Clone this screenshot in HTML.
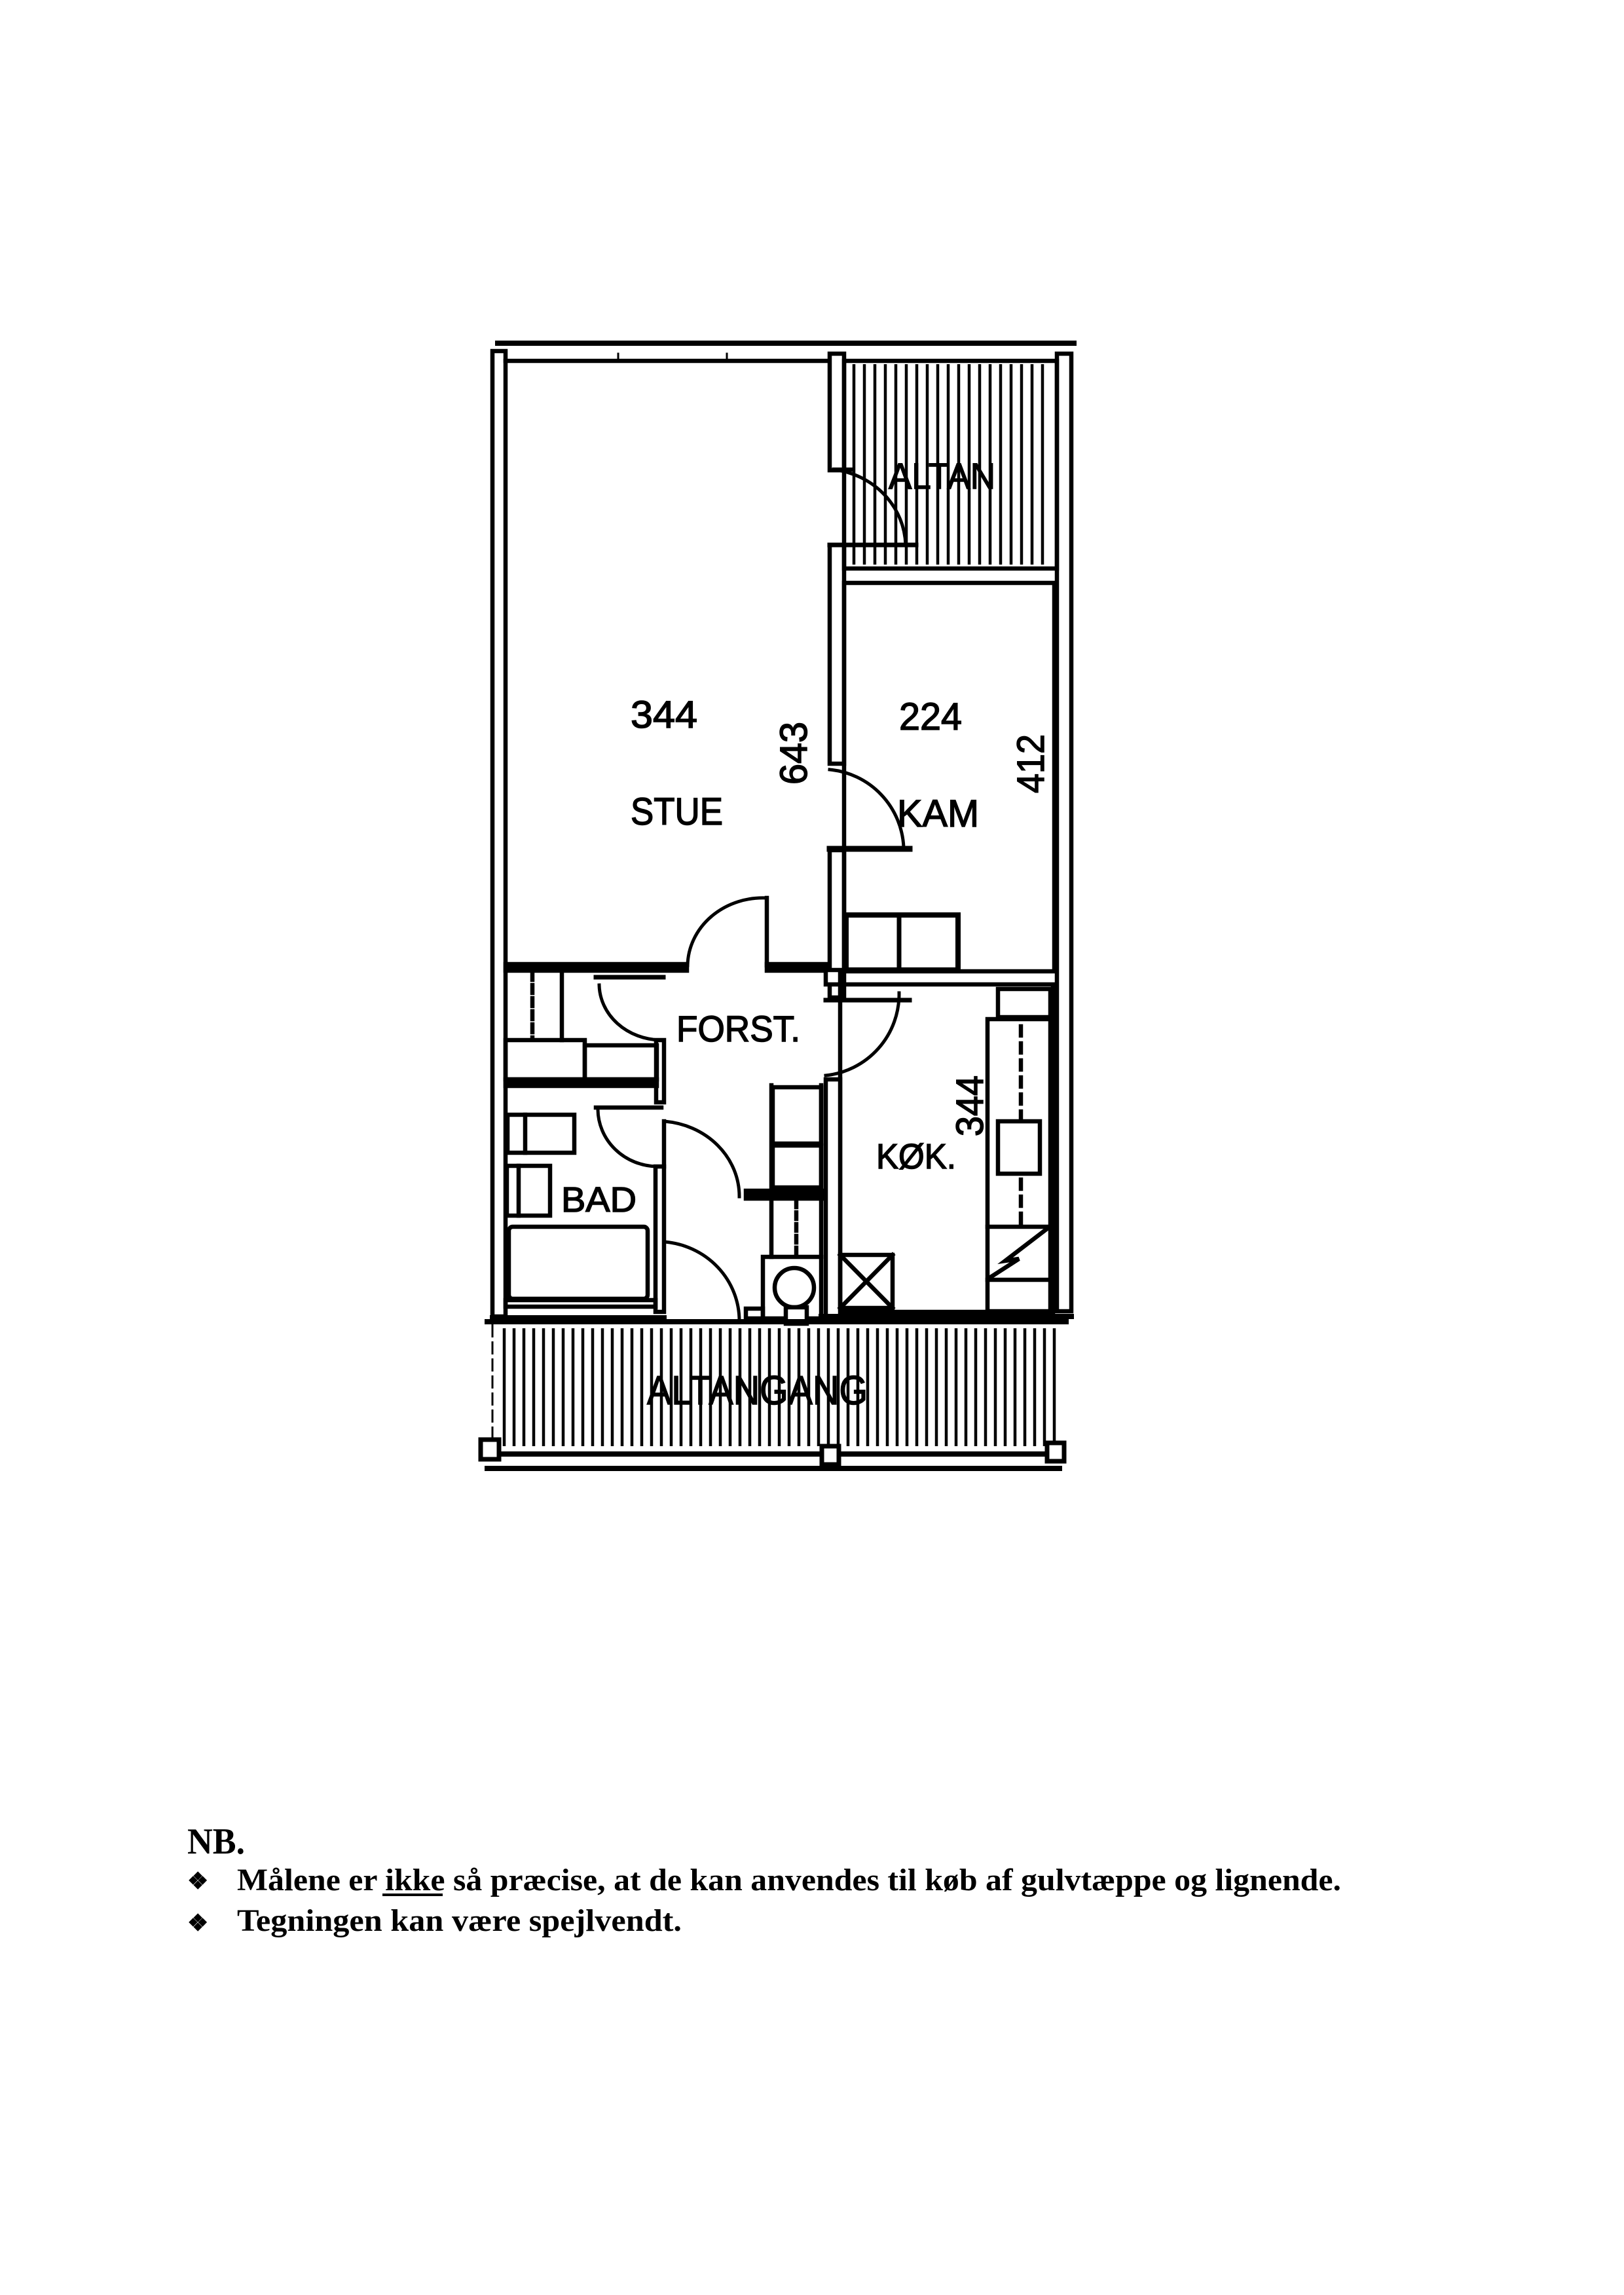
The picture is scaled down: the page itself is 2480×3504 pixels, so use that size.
<!DOCTYPE html>
<html><head><meta charset="utf-8"><style>
html,body{margin:0;padding:0;background:#fff;}
svg{display:block;}
</style></head><body>
<svg width="2480" height="3504" viewBox="0 0 2480 3504" xmlns="http://www.w3.org/2000/svg">
<rect width="2480" height="3504" fill="#fff"/>
<g fill="none" stroke="#000" stroke-width="6.5" stroke-linecap="square">
<line x1="760" y1="524" x2="1640" y2="524" stroke-width="8"/>
<rect x="752" y="536" width="20" height="1474" fill="#fff"/>
<line x1="772" y1="551" x2="1267" y2="551"/>
<line x1="944" y1="540" x2="944" y2="551" stroke-width="3"/>
<line x1="1110" y1="540" x2="1110" y2="551" stroke-width="3"/>
<rect x="1614" y="540" width="22" height="1462" fill="#fff"/>
<rect x="1267" y="540" width="22" height="178" fill="#fff"/>
<rect x="1267" y="832" width="22" height="334" fill="#fff"/>
<rect x="1267" y="1298" width="22" height="225" fill="#fff"/>
<rect x="1289" y="551" width="325" height="317"/>
<rect x="1289" y="890" width="321" height="593"/>
<line x1="1267" y1="1296" x2="1389" y2="1296" stroke-width="9"/>
<path d="M1267,1175 A125 125 0 0 1 1380,1294" stroke-width="5"/>
<rect x="1292" y="1397" width="171" height="84" stroke-width="8"/>
<line x1="1373" y1="1397" x2="1373" y2="1481" stroke-width="7"/>
<line x1="1267" y1="832" x2="1399" y2="832" stroke-width="7"/>
<line x1="1274" y1="717" x2="1300" y2="717"/>
<path d="M1274,717 A125 120 0 0 1 1383,832" stroke-width="5"/>
<rect x="772" y="1472" width="277" height="10" fill="#000"/>
<rect x="1171" y="1472" width="90" height="10" fill="#000"/>
<line x1="1171" y1="1371" x2="1171" y2="1474"/>
<path d="M1171,1371 A115 105 0 0 0 1050,1474" stroke-width="5"/>
<rect x="1283" y="1503" width="325" height="500"/>
<rect x="1261" y="1481" width="22" height="22" fill="#fff"/>
<rect x="1261" y="1648" width="22" height="365" fill="#fff"/>
<line x1="1261" y1="1527" x2="1389" y2="1527" stroke-width="7"/>
<path d="M1373,1516 A125 125 0 0 1 1261,1642" stroke-width="5"/>
<rect x="1524" y="1510" width="80" height="43"/>
<rect x="1508" y="1556" width="96" height="446"/>
<line x1="1559" y1="1567" x2="1559" y2="1867" stroke-dasharray="14,12"/>
<rect x="1524" y="1712" width="64" height="80" fill="#fff"/>
<line x1="1508" y1="1873" x2="1604" y2="1873"/>
<line x1="1508" y1="1954" x2="1604" y2="1954"/>
<polyline points="1511,1951 1556,1922 1535,1925 1599,1876"/>
<rect x="1283" y="1916" width="80" height="81"/>
<line x1="1283" y1="1916" x2="1363" y2="1997"/>
<line x1="1363" y1="1916" x2="1283" y2="1997"/>
<rect x="1180" y="1660" width="74" height="86"/>
<rect x="1180" y="1749" width="74" height="64"/>
<line x1="1178" y1="1657" x2="1178" y2="1919"/>
<line x1="1254" y1="1657" x2="1254" y2="1919"/>
<rect x="1139" y="1818" width="119" height="12" fill="#000"/>
<line x1="1216" y1="1833" x2="1216" y2="1914" stroke-dasharray="10,8"/>
<rect x="1165" y="1919" width="89" height="94"/>
<circle cx="1213" cy="1966" r="30"/>
<rect x="1200" y="1996" width="32" height="25" fill="#fff"/>
<rect x="1139" y="1998" width="26" height="15"/>
<rect x="1002" y="1588" width="12" height="95" fill="#fff"/>
<rect x="1001" y="1781" width="13" height="222" fill="#fff"/>
<line x1="910" y1="1492" x2="1013" y2="1492" stroke-width="7"/>
<path d="M915,1504 A96 86 0 0 0 1008,1588" stroke-width="5"/>
<line x1="910" y1="1691" x2="1010" y2="1691"/>
<path d="M913,1694 A92 88 0 0 0 1003,1781" stroke-width="5"/>
<line x1="1014" y1="1712" x2="1014" y2="1781"/>
<path d="M1014,1712 A125 115 0 0 1 1129,1827" stroke-width="5"/>
<path d="M1014,1896 A125 121 0 0 1 1129,2017" stroke-width="5"/>
<line x1="858" y1="1481" x2="858" y2="1588"/>
<line x1="813" y1="1484" x2="813" y2="1585" stroke-dasharray="12,8"/>
<rect x="772" y="1588" width="121" height="60"/>
<rect x="893" y="1596" width="110" height="52"/>
<rect x="772" y="1648" width="231" height="10" fill="#000"/>
<rect x="775" y="1702" width="102" height="58"/>
<line x1="802" y1="1702" x2="802" y2="1760"/>
<rect x="774" y="1780" width="66" height="76"/>
<line x1="792" y1="1780" x2="792" y2="1856"/>
<rect x="777" y="1873" width="212" height="110" rx="6"/>
<rect x="772" y="1985" width="229" height="10"/>
<line x1="752" y1="2012" x2="1014" y2="2012" stroke-width="8"/>
<line x1="1254" y1="2010" x2="1636" y2="2010" stroke-width="8"/>
</g>
<g stroke="#000" stroke-width="4.5">
<line x1="1304" y1="556" x2="1304" y2="862"/><line x1="1320" y1="556" x2="1320" y2="862"/><line x1="1336" y1="556" x2="1336" y2="862"/><line x1="1352" y1="556" x2="1352" y2="862"/><line x1="1368" y1="556" x2="1368" y2="862"/><line x1="1384" y1="556" x2="1384" y2="862"/><line x1="1400" y1="556" x2="1400" y2="862"/><line x1="1416" y1="556" x2="1416" y2="862"/><line x1="1432" y1="556" x2="1432" y2="862"/><line x1="1448" y1="556" x2="1448" y2="862"/><line x1="1464" y1="556" x2="1464" y2="862"/><line x1="1480" y1="556" x2="1480" y2="862"/><line x1="1496" y1="556" x2="1496" y2="862"/><line x1="1512" y1="556" x2="1512" y2="862"/><line x1="1528" y1="556" x2="1528" y2="862"/><line x1="1544" y1="556" x2="1544" y2="862"/><line x1="1560" y1="556" x2="1560" y2="862"/><line x1="1576" y1="556" x2="1576" y2="862"/><line x1="1592" y1="556" x2="1592" y2="862"/>
</g>
<g stroke="#000">
<line x1="740" y1="2018" x2="1632" y2="2018" stroke-width="8"/>
<line x1="756" y1="2220" x2="1600" y2="2220" stroke-width="8"/>
<line x1="740" y1="2242" x2="1622" y2="2242" stroke-width="8"/>
<line x1="752" y1="2022" x2="752" y2="2200" stroke-width="3" stroke-dasharray="20,6"/>
<g stroke-width="4.5">
<line x1="770" y1="2028" x2="770" y2="2208"/><line x1="785" y1="2028" x2="785" y2="2208"/><line x1="800" y1="2028" x2="800" y2="2208"/><line x1="815" y1="2028" x2="815" y2="2208"/><line x1="830" y1="2028" x2="830" y2="2208"/><line x1="845" y1="2028" x2="845" y2="2208"/><line x1="860" y1="2028" x2="860" y2="2208"/><line x1="875" y1="2028" x2="875" y2="2208"/><line x1="890" y1="2028" x2="890" y2="2208"/><line x1="905" y1="2028" x2="905" y2="2208"/><line x1="920" y1="2028" x2="920" y2="2208"/><line x1="935" y1="2028" x2="935" y2="2208"/><line x1="950" y1="2028" x2="950" y2="2208"/><line x1="965" y1="2028" x2="965" y2="2208"/><line x1="980" y1="2028" x2="980" y2="2208"/><line x1="995" y1="2028" x2="995" y2="2208"/><line x1="1010" y1="2028" x2="1010" y2="2208"/><line x1="1025" y1="2028" x2="1025" y2="2208"/><line x1="1040" y1="2028" x2="1040" y2="2208"/><line x1="1055" y1="2028" x2="1055" y2="2208"/><line x1="1070" y1="2028" x2="1070" y2="2208"/><line x1="1085" y1="2028" x2="1085" y2="2208"/><line x1="1100" y1="2028" x2="1100" y2="2208"/><line x1="1115" y1="2028" x2="1115" y2="2208"/><line x1="1130" y1="2028" x2="1130" y2="2208"/><line x1="1145" y1="2028" x2="1145" y2="2208"/><line x1="1160" y1="2028" x2="1160" y2="2208"/><line x1="1175" y1="2028" x2="1175" y2="2208"/><line x1="1190" y1="2028" x2="1190" y2="2208"/><line x1="1205" y1="2028" x2="1205" y2="2208"/><line x1="1220" y1="2028" x2="1220" y2="2208"/><line x1="1235" y1="2028" x2="1235" y2="2208"/><line x1="1250" y1="2028" x2="1250" y2="2208"/><line x1="1265" y1="2028" x2="1265" y2="2208"/><line x1="1280" y1="2028" x2="1280" y2="2208"/><line x1="1295" y1="2028" x2="1295" y2="2208"/><line x1="1310" y1="2028" x2="1310" y2="2208"/><line x1="1325" y1="2028" x2="1325" y2="2208"/><line x1="1340" y1="2028" x2="1340" y2="2208"/><line x1="1355" y1="2028" x2="1355" y2="2208"/><line x1="1370" y1="2028" x2="1370" y2="2208"/><line x1="1385" y1="2028" x2="1385" y2="2208"/><line x1="1400" y1="2028" x2="1400" y2="2208"/><line x1="1415" y1="2028" x2="1415" y2="2208"/><line x1="1430" y1="2028" x2="1430" y2="2208"/><line x1="1445" y1="2028" x2="1445" y2="2208"/><line x1="1460" y1="2028" x2="1460" y2="2208"/><line x1="1475" y1="2028" x2="1475" y2="2208"/><line x1="1490" y1="2028" x2="1490" y2="2208"/><line x1="1505" y1="2028" x2="1505" y2="2208"/><line x1="1520" y1="2028" x2="1520" y2="2208"/><line x1="1535" y1="2028" x2="1535" y2="2208"/><line x1="1550" y1="2028" x2="1550" y2="2208"/><line x1="1565" y1="2028" x2="1565" y2="2208"/><line x1="1580" y1="2028" x2="1580" y2="2208"/><line x1="1595" y1="2028" x2="1595" y2="2208"/><line x1="1610" y1="2028" x2="1610" y2="2208"/>
</g>
<rect x="734" y="2198" width="28" height="30" fill="#fff" stroke-width="7"/>
<rect x="1255" y="2208" width="26" height="28" fill="#fff" stroke-width="7"/>
<rect x="1599" y="2203" width="26" height="28" fill="#fff" stroke-width="7"/>
</g>
<g font-family="Liberation Sans, sans-serif" fill="#000" stroke="#000" stroke-width="1.5" font-size="58">
<text x="963" y="1111" textLength="102" lengthAdjust="spacingAndGlyphs">344</text>
<text x="963" y="1259" textLength="141" lengthAdjust="spacingAndGlyphs">STUE</text>
<text x="1373" y="1114" textLength="96" lengthAdjust="spacingAndGlyphs">224</text>
<text x="1370" y="1262" textLength="125" lengthAdjust="spacingAndGlyphs">KAM</text>
<text transform="translate(1232,1198) rotate(-90)" textLength="96" lengthAdjust="spacingAndGlyphs">643</text>
<text transform="translate(1594,1211) rotate(-90)" textLength="90" lengthAdjust="spacingAndGlyphs">412</text>
<text x="1033" y="1590" textLength="189" lengthAdjust="spacingAndGlyphs" font-size="56">FORST.</text>
<text x="1338" y="1784" textLength="122" lengthAdjust="spacingAndGlyphs" font-size="54">KØK.</text>
<text transform="translate(1501,1735) rotate(-90)" textLength="93" lengthAdjust="spacingAndGlyphs">344</text>
<text x="857" y="1850" textLength="115" lengthAdjust="spacingAndGlyphs" font-size="54">BAD</text>
<text x="1357" y="746" textLength="163" lengthAdjust="spacingAndGlyphs" font-size="56">ALTAN</text>
<text x="988" y="2144" textLength="337" lengthAdjust="spacingAndGlyphs" font-size="62">ALTANGANG</text>
</g>
<g font-family="Liberation Serif, serif" font-weight="bold" fill="#000">
<text x="286" y="2830" font-size="56" textLength="88" lengthAdjust="spacingAndGlyphs">NB.</text>
<text x="286" y="2884" font-size="36">❖</text>
<text x="362" y="2886" font-size="48" textLength="1686" lengthAdjust="spacingAndGlyphs">Målene er ikke så præcise, at de kan anvendes til køb af gulvtæppe og lignende.</text>
<line x1="584" y1="2893" x2="676" y2="2893" stroke="#000" stroke-width="4"/>
<text x="286" y="2948" font-size="36">❖</text>
<text x="362" y="2948" font-size="48" textLength="679" lengthAdjust="spacingAndGlyphs">Tegningen kan være spejlvendt.</text>
</g>
</svg>
</body></html>
